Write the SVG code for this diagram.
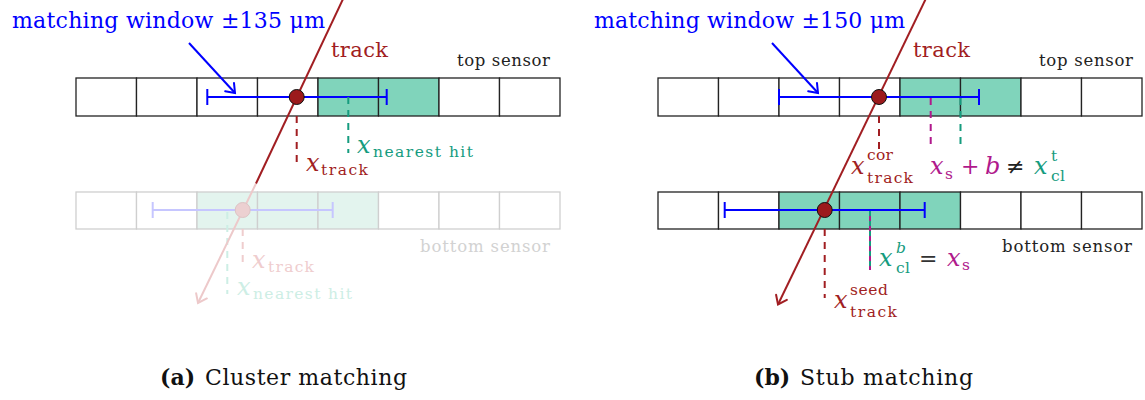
<svg xmlns="http://www.w3.org/2000/svg" width="1145" height="400" viewBox="0 0 1145 400" font-family="'DejaVu Serif', serif">
<style>
text{font-family:'DejaVu Serif',serif}
.cell{fill:#fff;stroke:#222;stroke-width:1.3}
.hit{fill:#80d4bb;stroke:#222;stroke-width:1.3}
.fcell{fill:#fff;stroke:#cfcfcf;stroke-width:1.3}
.fhit{fill:#e3f4ee;stroke:#cfcfcf;stroke-width:1.3}
.trk{stroke:#a11e22;stroke-width:2;fill:none}
.ftrk{stroke:#edc9ca;stroke-width:2;fill:none}
.win{stroke:#0000ff;stroke-width:2;fill:none}
.fwin{stroke:#c6c6ff;stroke-width:2;fill:none}
.dash{stroke-width:2;fill:none;stroke-dasharray:7 6}
.dot{fill:#9c1a1c;stroke:#111;stroke-width:1}
.fdot{fill:#ecd0d1;stroke:#dcc3c4;stroke-width:1}
.red{fill:#a11e22}.teal{fill:#169c7f}.mag{fill:#b0198c}.blue{fill:#0000ff}
.fred{fill:#efcdce}.fteal{fill:#cdeee5}
.mx{font-style:italic;font-size:24px}
.sub{font-size:15.5px}
.lbl{font-size:16.5px;fill:#222}
.cap{font-size:22px;fill:#111}
.ttl{font-size:22px}
</style>
<defs>
<marker id="arRed" markerUnits="userSpaceOnUse" viewBox="-10 -8 12 16" refX="0" refY="0" markerWidth="12" markerHeight="16" orient="auto" overflow="visible">
<path d="M-8,-6 Q-2,-1.5 0,0 Q-2,1.5 -8,6" fill="none" stroke="#a11e22" stroke-width="2" stroke-linecap="round"/>
</marker>
<marker id="arFaded" markerUnits="userSpaceOnUse" viewBox="-10 -8 12 16" refX="0" refY="0" markerWidth="12" markerHeight="16" orient="auto" overflow="visible">
<path d="M-8,-6 Q-2,-1.5 0,0 Q-2,1.5 -8,6" fill="none" stroke="#edc9ca" stroke-width="2" stroke-linecap="round"/>
</marker>
<marker id="arBlue" markerUnits="userSpaceOnUse" viewBox="-10 -8 12 16" refX="0" refY="0" markerWidth="12" markerHeight="16" orient="auto" overflow="visible">
<path d="M-8,-6 Q-2,-1.5 0,0 Q-2,1.5 -8,6" fill="none" stroke="#0000ff" stroke-width="2" stroke-linecap="round"/>
</marker>
</defs>

<!-- ===== Panel (a) ===== -->
<g id="a-bottom-sensor">
<rect class="fcell" x="76" y="192" width="60.5" height="37"/>
<rect class="fcell" x="136.5" y="192" width="60.5" height="37"/>
<rect class="fhit" x="197" y="192" width="60.5" height="37"/>
<rect class="fhit" x="257.5" y="192" width="60.5" height="37"/>
<rect class="fhit" x="318" y="192" width="60.5" height="37"/>
<rect class="fcell" x="378.5" y="192" width="60.5" height="37"/>
<rect class="fcell" x="439" y="192" width="60.5" height="37"/>
<rect class="fcell" x="499.5" y="192" width="60.5" height="37"/>
<text x="420" y="252" font-size="16.5" fill="#d2d2d2" textLength="130">bottom sensor</text>
</g>
<g id="a-top-sensor">
<rect class="cell" x="76" y="78" width="60.5" height="38"/>
<rect class="cell" x="136.5" y="78" width="60.5" height="38"/>
<rect class="cell" x="197" y="78" width="60.5" height="38"/>
<rect class="cell" x="257.5" y="78" width="60.5" height="38"/>
<rect class="hit" x="318" y="78" width="60.5" height="38"/>
<rect class="hit" x="378.5" y="78" width="60.5" height="38"/>
<rect class="cell" x="439" y="78" width="60.5" height="38"/>
<rect class="cell" x="499.5" y="78" width="60.5" height="38"/>
<text class="lbl" x="457" y="66" textLength="93">top sensor</text>
</g>
<g id="a-connectors">
<path class="fwin" d="M152.7,210 H332.7 M152.7,202 V218 M332.7,202 V218"/>
<line class="dash" x1="227.3" y1="212" x2="227.3" y2="294" stroke="#cdeee5"/>
<line class="dash" x1="242.7" y1="229" x2="242.7" y2="267" stroke="#efcdce"/>
<path class="win" d="M207.3,97 H386.7 M207.3,89 V105 M386.7,89 V105"/>
<line class="dash" x1="348.3" y1="97" x2="348.3" y2="153" stroke="#169c7f"/>
<line class="dash" x1="296.7" y1="116" x2="296.7" y2="168" stroke="#a11e22"/>
<line class="win" x1="189" y1="43" x2="235" y2="93" marker-end="url(#arBlue)"/>
<line class="ftrk" x1="256" y1="183.5" x2="198" y2="303" marker-end="url(#arFaded)"/>
<line class="trk" x1="343.5" y1="-2" x2="256" y2="183.5"/>
</g>
<g id="a-points">
<circle class="fdot" cx="242.7" cy="210" r="7.5"/>
<circle class="dot" cx="296.7" cy="97" r="7.5"/>
</g>
<g id="a-labels">
<text x="12" y="28" class="ttl blue" textLength="313">matching window ±135 μm</text>
<text x="331" y="57" font-size="21" class="red" textLength="57">track</text>
<text class="mx red" x="306" y="171">x</text><text class="sub red" x="321" y="175" textLength="47">track</text>
<text class="mx teal" x="357" y="153">x</text><text class="sub teal" x="373" y="157" textLength="100">nearest hit</text>
<text class="mx fred" x="252" y="268">x</text><text class="sub fred" x="268" y="272" textLength="46">track</text>
<text class="mx fteal" x="237" y="295">x</text><text class="sub fteal" x="253" y="299" textLength="99">nearest hit</text>
</g>

<!-- ===== Panel (b) ===== -->
<g id="b-top-sensor">
<rect class="cell" x="658" y="78" width="60.5" height="38"/>
<rect class="cell" x="718.5" y="78" width="60.5" height="38"/>
<rect class="cell" x="779" y="78" width="60.5" height="38"/>
<rect class="cell" x="839.5" y="78" width="60.5" height="38"/>
<rect class="hit" x="900" y="78" width="60.5" height="38"/>
<rect class="hit" x="960.5" y="78" width="60.5" height="38"/>
<rect class="cell" x="1021" y="78" width="60.5" height="38"/>
<rect class="cell" x="1081.5" y="78" width="60.5" height="38"/>
<text class="lbl" x="1039" y="66" textLength="94">top sensor</text>
</g>
<g id="b-bottom-sensor">
<rect class="cell" x="658" y="192" width="60.5" height="37"/>
<rect class="cell" x="718.5" y="192" width="60.5" height="37"/>
<rect class="hit" x="779" y="192" width="60.5" height="37"/>
<rect class="hit" x="839.5" y="192" width="60.5" height="37"/>
<rect class="hit" x="900" y="192" width="60.5" height="37"/>
<rect class="cell" x="960.5" y="192" width="60.5" height="37"/>
<rect class="cell" x="1021" y="192" width="60.5" height="37"/>
<rect class="cell" x="1081.5" y="192" width="60.5" height="37"/>
<text class="lbl" x="1002" y="252" textLength="130">bottom sensor</text>
</g>
<g id="b-connectors">
<path class="win" d="M779,97 H979 M779,89 V105 M979,89 V105"/>
<path class="win" d="M724.7,210 H924.7 M724.7,202 V218 M924.7,202 V218"/>
<line class="dash" x1="930.7" y1="98" x2="930.7" y2="149" stroke="#b0198c"/>
<line class="dash" x1="960.5" y1="98" x2="960.5" y2="149" stroke="#169c7f"/>
<line class="dash" x1="879" y1="116" x2="879" y2="149" stroke="#a11e22"/>
<line x1="870" y1="211" x2="870" y2="270" stroke="#169c7f" stroke-width="2" stroke-dasharray="5 5"/>
<line x1="870" y1="216" x2="870" y2="270" stroke="#b0198c" stroke-width="2" stroke-dasharray="5 5"/>
<line class="dash" x1="824.7" y1="229" x2="824.7" y2="298" stroke="#a11e22"/>
<line class="win" x1="772" y1="43" x2="818" y2="93" marker-end="url(#arBlue)"/>
<line class="trk" x1="926.2" y1="-2" x2="778" y2="304.5" marker-end="url(#arRed)"/>
</g>
<g id="b-points">
<circle class="dot" cx="879" cy="97" r="7.5"/>
<circle class="dot" cx="824.7" cy="210" r="7.5"/>
</g>
<g id="b-labels">
<text x="594" y="28" class="ttl blue" textLength="311">matching window ±150 μm</text>
<text x="913" y="57" font-size="21" class="red" textLength="57">track</text>
<text class="mx red" x="851" y="174">x</text><text class="sub red" x="867" y="160" textLength="26">cor</text><text class="sub red" x="867" y="183" textLength="46">track</text>
<text class="mx mag" x="930" y="174">x</text><text class="sub mag" x="945" y="179">s</text>
<text x="961" y="174" font-size="22" class="mag">+</text>
<text class="mx mag" x="985" y="174">b</text>
<text x="1006" y="174" font-size="22" fill="#222">≠</text>
<text class="mx teal" x="1034" y="174">x</text><text class="sub teal" x="1051" y="161">t</text><text class="sub teal" x="1051" y="181" textLength="14">cl</text>
<text class="mx teal" x="879" y="266">x</text><text class="sub teal" x="896" y="253" font-style="italic">b</text><text class="sub teal" x="896" y="273" textLength="14">cl</text>
<text x="919" y="266" font-size="22" fill="#333">=</text>
<text class="mx mag" x="947" y="266">x</text><text class="sub mag" x="962" y="270">s</text>
<text class="mx red" x="834" y="308">x</text><text class="sub red" x="850" y="295" textLength="38">seed</text><text class="sub red" x="850" y="317" textLength="47">track</text>
</g>

<g id="captions">
<text class="cap" x="160" y="385" font-weight="bold">(a)</text>
<text class="cap" x="205" y="385" textLength="202">Cluster matching</text>
<text class="cap" x="754" y="385" font-weight="bold">(b)</text>
<text class="cap" x="800" y="385" textLength="173">Stub matching</text>
</g>
</svg>
